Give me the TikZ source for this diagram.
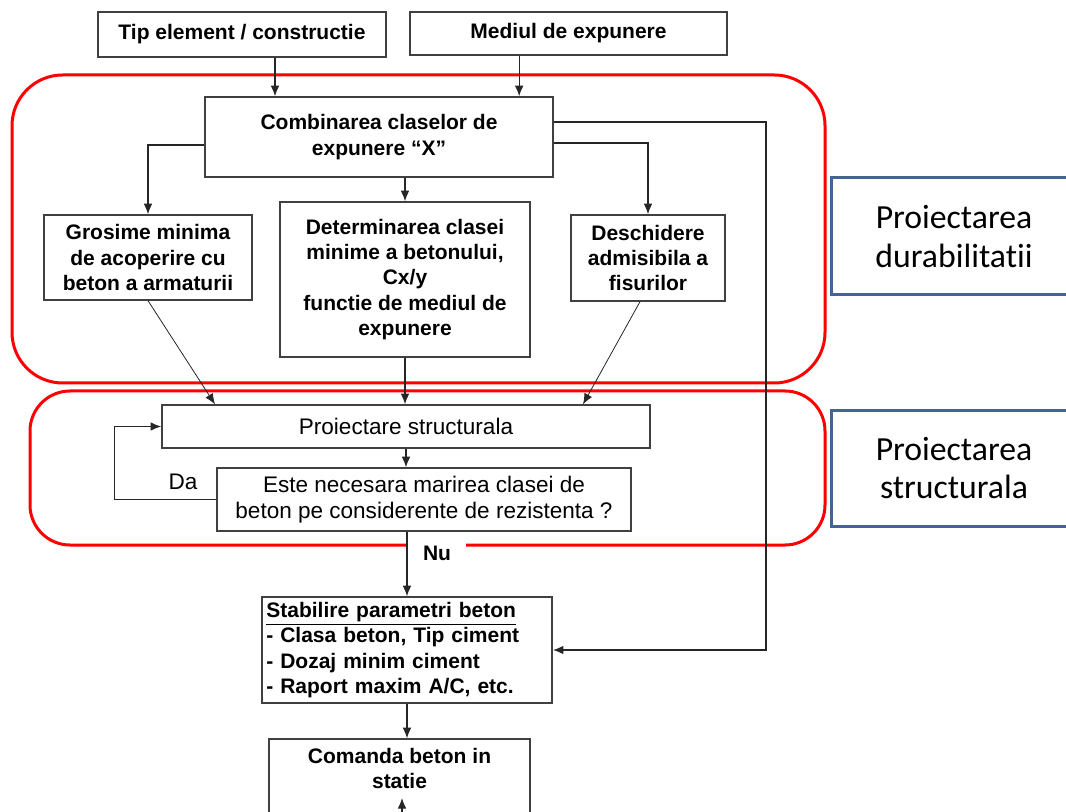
\documentclass[tikz,border=0pt]{standalone}
\usepackage{fontspec}
\setmainfont{Liberation Sans}
\newfontfamily\calibfont[Ligatures=NoCommon]{Carlito}
\usetikzlibrary{arrows.meta}
\definecolor{tagblue}{RGB}{68,100,146}
\tikzset{pin/.style={-{Latex[length=8pt,width=6.5pt]}, line width=0.9pt, black!85},
  blk/.style={draw=black!75, line width=1pt, fill=white, font=\bfseries\fontsize{15.75}{18.9}\selectfont, align=center, inner sep=2pt},
  reg/.style={blk, font=\fontsize{16.9}{19.5}\selectfont},
  zone/.style={draw=red, line width=2.25pt},
  sidetag/.style={draw=tagblue, line width=2.25pt, font=\calibfont\fontsize{25.3}{29.2}\selectfont, align=center}}

\begin{document}
\begin{tikzpicture}[x=0.75pt, y=-0.75pt]
  \useasboundingbox (0,0) rectangle (1066,812);
  \clip (0,0) rectangle (1066,812);
  % zones
  \draw[zone, rounded corners=38pt] (12,75) rectangle (825,383);
  \draw[zone, rounded corners=30pt] (30,391) rectangle (825,545);
  \node[sidetag, minimum width=184.5pt, minimum height=87.75pt] (tagdur) at (954,236.5) {Proiectarea\\durabilitatii};
  \node[sidetag, minimum width=184.5pt, minimum height=87pt] (tagstr) at (954,468) {Proiectarea\\structurala};
  % boxes
  \node[blk, minimum width=216pt, minimum height=33.75pt] (tip) at (242,34.5) {Tip element / constructie};
  \node[blk, minimum width=237.75pt, minimum height=32.25pt] (med) at (568.5,33.5) {Mediul de expunere};
  \node[blk, minimum width=261pt, minimum height=60pt] (comb) at (379,137) {Combinarea claselor de\\expunere “X”};
  \node[blk, minimum width=156pt, minimum height=63.75pt] (gros) at (148,257.5) {Grosime minima\\de acoperire cu\\beton a armaturii};
  \node[blk, minimum width=187.5pt, minimum height=116.25pt] (det) at (405,279.5) {Determinarea clasei\\minime a betonului,\\Cx/y\\functie de mediul de\\expunere};
  \node[blk, minimum width=115.5pt, minimum height=64.5pt] (desc) at (648,258) {Deschidere\\admisibila a\\fisurilor};
  \node[reg, minimum width=366pt, minimum height=32.25pt] (proi) at (406,426.5) {Proiectare structurala};
  \node[reg, minimum width=310.5pt, minimum height=47.25pt] (este) at (424,499.5) {Este necesara marirea clasei de\\beton pe considerente de rezistenta ?};
  \node[blk, minimum width=217.5pt, minimum height=79.5pt, text width=211pt, align=left] (stab) at (407,650) {\underline{Stabilire parametri beton}\\- Clasa beton, Tip ciment\\- Dozaj minim ciment\\- Raport maxim A/C, etc.};
  \node[blk, minimum width=195.75pt, minimum height=69pt] (com) at (399.5,785) {Comanda beton in\\statie\\\strut};
  % labels
  \node[font=\fontsize{16.9}{19}\selectfont] (da) at (183,482) {Da};
  \node[font=\bfseries\fontsize{15.75}{18}\selectfont, fill=white, minimum width=43.5pt, minimum height=24pt, inner sep=1pt] (nu) at (437,553) {Nu};
  % connectors
  \draw[pin] ([xshift=24.75pt]tip.south) -- ([xshift=24.75pt]tip.south |- comb.north);
  \draw[pin] ([xshift=-37pt]med.south) -- ([xshift=-37pt]med.south |- comb.north);
  \draw[pin] ([yshift=-6pt]comb.west) -| (gros.north);
  \draw[pin] (det.north |- comb.south) -- (det.north);
  \draw[pin] ([yshift=-4.5pt]comb.east) -| (desc.north);
  \draw[pin, line width=1.4pt] ([yshift=11.25pt]comb.east) -- ++(212,0) |- (stab.east);
  \draw[pin, line width=0.6pt] (gros.south) -- ([xshift=-143.25pt]proi.north);
  \draw[pin] (det.south) -- (det.south |- proi.north);
  \draw[pin, line width=0.6pt] ([xshift=-6pt]desc.south) -- ([xshift=132.75pt]proi.north);
  \draw[pin] (proi.south) -- (proi.south |- este.north);
  \draw[pin, line width=1.2pt] (este.west) -- ++(-102,0) |- (proi.west);
  \draw[pin] (este.south -| stab.north) -- (stab.north);
  \draw[pin] (stab.south) -- (stab.south |- com.north);
  \coordinate (cmdlow) at (402,830);
  \draw[pin] (cmdlow) -- ++(0,-32);
\end{tikzpicture}
\end{document}
